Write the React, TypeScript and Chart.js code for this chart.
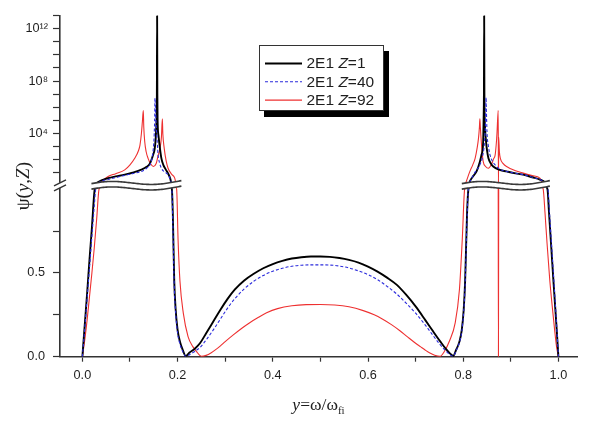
import { useEffect, useRef } from 'react';
import { Chart, registerables } from 'chart.js';

Chart.register(...registerables);

// ψ(y, Z) for the 2E1 two-photon spectrum; pairs of [y = ω/ω_fi, ψ]
const PSI_Z1: [number, number][] = [
  [0, 0], [0.005, 0.19], [0.01, 0.38], [0.015, 0.58], [0.02, 0.77], [0.026, 1.0],
  [0.03, 1.6], [0.04, 2.6], [0.054, 3.9], [0.07, 5.2], [0.089, 7.1], [0.105, 10],
  [0.124, 17], [0.135, 28], [0.142, 52], [0.148, 200], [0.152, 700], [0.154, 4000],
  [0.155, 2e4], [0.156, 2.5e5], [0.1565, 1e7], [0.157, 1e13], [0.1575, 1e7], [0.158, 1e5],
  [0.16, 6300], [0.163, 700], [0.166, 126], [0.17, 40], [0.175, 18], [0.18, 9],
  [0.185, 3.2], [0.188, 1.0], [0.19, 0.85], [0.193, 0.45], [0.196, 0.28], [0.2, 0.16],
  [0.205, 0.09], [0.211, 0.04], [0.217, 0.004], [0.225, 0.025], [0.235, 0.045], [0.247, 0.08],
  [0.26, 0.14], [0.275, 0.21], [0.29, 0.28], [0.305, 0.345], [0.32, 0.4], [0.34, 0.455],
  [0.36, 0.495], [0.38, 0.528], [0.4, 0.553], [0.42, 0.572], [0.44, 0.586], [0.46, 0.594],
  [0.48, 0.598], [0.5, 0.598], [0.52, 0.596], [0.54, 0.589], [0.56, 0.578], [0.58, 0.562],
  [0.6, 0.538], [0.62, 0.508], [0.64, 0.472], [0.66, 0.43], [0.68, 0.37], [0.7, 0.3],
  [0.72, 0.22], [0.737, 0.15], [0.752, 0.09], [0.764, 0.045], [0.772, 0.02], [0.779, 0.004],
  [0.785, 0.04], [0.792, 0.09], [0.797, 0.16], [0.801, 0.28], [0.804, 0.45], [0.808, 0.85],
  [0.811, 1.0], [0.814, 2.2], [0.82, 5], [0.828, 12.6], [0.835, 70], [0.838, 200],
  [0.841, 700], [0.842, 3000], [0.843, 2.5e5], [0.8435, 1e7], [0.844, 1e13], [0.8445, 1e7],
  [0.845, 2e5], [0.846, 2e4], [0.848, 2300], [0.85, 500], [0.853, 126], [0.858, 50],
  [0.863, 30], [0.875, 17], [0.891, 12.6], [0.91, 9], [0.926, 7.1], [0.945, 4.5],
  [0.961, 3.0], [0.972, 1.8], [0.977, 1.0], [0.98, 0.87], [0.985, 0.65], [0.99, 0.43],
  [0.995, 0.22], [1.0, 0],
];

const PSI_Z40: [number, number][] = [
  [0, 0], [0.005, 0.17], [0.01, 0.35], [0.015, 0.53], [0.02, 0.72], [0.025, 0.9],
  [0.028, 1.0], [0.032, 1.5], [0.04, 2.3], [0.054, 3.0], [0.07, 4.3], [0.089, 6.3],
  [0.105, 8.5], [0.124, 12.6], [0.135, 22], [0.142, 40], [0.146, 120], [0.149, 700],
  [0.151, 1e4], [0.152, 2.5e5], [0.1525, 5e6], [0.1535, 1e6], [0.155, 4e4], [0.156, 1.2e4],
  [0.159, 250], [0.162, 60], [0.166, 22], [0.172, 12], [0.18, 7], [0.186, 2.2],
  [0.188, 1.0], [0.19, 0.8], [0.193, 0.42], [0.196, 0.26], [0.2, 0.14], [0.205, 0.075],
  [0.211, 0.03], [0.217, 0.003], [0.225, 0.012], [0.235, 0.03], [0.247, 0.055], [0.26, 0.1],
  [0.275, 0.16], [0.29, 0.225], [0.305, 0.29], [0.32, 0.345], [0.34, 0.405], [0.36, 0.45],
  [0.38, 0.485], [0.4, 0.51], [0.42, 0.528], [0.44, 0.54], [0.46, 0.546], [0.48, 0.548],
  [0.5, 0.548], [0.52, 0.547], [0.54, 0.541], [0.56, 0.53], [0.58, 0.512], [0.6, 0.49],
  [0.62, 0.46], [0.64, 0.42], [0.66, 0.375], [0.68, 0.32], [0.7, 0.26], [0.72, 0.19],
  [0.737, 0.125], [0.752, 0.07], [0.764, 0.033], [0.772, 0.013], [0.779, 0.003], [0.785, 0.035],
  [0.792, 0.085], [0.797, 0.15], [0.801, 0.27], [0.804, 0.43], [0.808, 0.82], [0.811, 1.0],
  [0.815, 2.5], [0.818, 4], [0.826, 12.6], [0.835, 40], [0.841, 200], [0.845, 3000],
  [0.847, 1e5], [0.848, 5.6e6], [0.8485, 1e6], [0.85, 1.2e4], [0.853, 1000], [0.856, 250],
  [0.861, 80], [0.867, 40], [0.875, 20], [0.891, 12.6], [0.91, 9], [0.926, 7.1],
  [0.945, 4.5], [0.961, 3.0], [0.972, 1.8], [0.978, 1.0], [0.981, 0.87], [0.986, 0.65],
  [0.991, 0.43], [0.996, 0.2], [1.0, 0],
];

const PSI_Z92: [number, number][] = [
  [0, 0], [0.005, 0.1], [0.01, 0.22], [0.015, 0.36], [0.02, 0.5], [0.025, 0.65],
  [0.03, 0.82], [0.035, 1.0], [0.04, 2.0], [0.054, 5.2], [0.07, 8.5], [0.089, 16.6],
  [0.1, 40], [0.11, 126], [0.118, 500], [0.121, 1300], [0.124, 1e4], [0.126, 7.4e4],
  [0.128, 5.6e5], [0.129, 3e4], [0.131, 2300], [0.134, 400], [0.138, 126], [0.143, 50],
  [0.149, 30], [0.155, 50], [0.159, 200], [0.163, 700], [0.166, 5000], [0.168, 1.3e5],
  [0.169, 1e4], [0.172, 700], [0.176, 80], [0.18, 22], [0.187, 8], [0.194, 3.9],
  [0.198, 1.0], [0.201, 0.7], [0.205, 0.45], [0.212, 0.26], [0.222, 0.12], [0.232, 0.06],
  [0.24, 0.03], [0.25, 0.002], [0.26, 0.008], [0.27, 0.022], [0.28, 0.042], [0.29, 0.065],
  [0.3, 0.09], [0.317, 0.13], [0.335, 0.17], [0.35, 0.2], [0.37, 0.235], [0.387, 0.262],
  [0.41, 0.287], [0.44, 0.304], [0.47, 0.311], [0.5, 0.312], [0.53, 0.309], [0.56, 0.298],
  [0.59, 0.275], [0.613, 0.25], [0.63, 0.225], [0.65, 0.19], [0.667, 0.155], [0.683, 0.118],
  [0.7, 0.08], [0.71, 0.06], [0.72, 0.04], [0.73, 0.022], [0.74, 0.009], [0.751, 0.002],
  [0.76, 0.03], [0.772, 0.1], [0.783, 0.2], [0.792, 0.4], [0.798, 0.7], [0.803, 1.0],
  [0.807, 2.5], [0.814, 12.6], [0.82, 40], [0.825, 126], [0.829, 700], [0.832, 4000],
  [0.834, 3e4], [0.835, 1.3e5], [0.836, 3e4], [0.839, 700], [0.842, 70], [0.847, 30],
  [0.853, 22], [0.86, 50], [0.864, 120], [0.867, 220], [0.87, 3000], [0.871, 1.2e4],
  [0.8735, 5.6e5], [0.874, 0], [0.8745, 5000], [0.876, 400], [0.878, 126], [0.884, 50],
  [0.891, 30], [0.91, 14], [0.926, 9.3], [0.945, 6], [0.961, 3.9], [0.964, 2.5],
  [0.968, 1.0], [0.972, 0.85], [0.976, 0.68], [0.982, 0.45], [0.987, 0.3], [0.992, 0.16],
  [0.996, 0.06], [1.0, 0],
];

const SERIES_Z = ['1', '40', '92'];

const X_TICKS = [0, 0.1, 0.2, 0.3, 0.4, 0.5, 0.6, 0.7, 0.8, 0.9, 1.0];
const X_TICK_LABELS = ['0.0', '', '0.2', '', '0.4', '', '0.6', '', '0.8', '', '1.0'];
const Y_LOW_TICKS = [0, 0.25, 0.5, 0.75];
const Y_LOW_TICK_LABELS = ['0.0', '', '0.5', ''];
const Y_HIGH_TICKS = [1e1, 1e2, 1e3, 1e4, 1e5, 1e6, 1e7, 1e8, 1e9, 1e10, 1e11, 1e12, 1e13];
const Y_HIGH_TICK_LABELS = ['', '', '', '10⁴', '', '', '', '10⁸', '', '', '', '10¹²', ''];

// linear part of the broken axis: 0 .. LOW_MAX, log part: 1 .. 1e13
const LOW_MAX = 1.02;
const HIGH_MIN = 1;
const HIGH_MAX = 1e13;
const BREAK_VALUE = 1;

// x ranges covered by the wavy break bands
const BAND_RANGES: [number, number][] = [[0.019, 0.208], [0.797, 0.982]];

const STYLES = [
  { color: '#000000', width: 1.9, dash: [] as number[] },
  { color: '#2b2bdc', width: 1.1, dash: [3, 2] },
  { color: '#ee3030', width: 1.1, dash: [] as number[] },
];

const SANS = '"Liberation Sans", Arial, sans-serif';
const SERIF = '"Liberation Serif", "Times New Roman", serif';
const AXIS_COLOR = '#333333';
const TEXT_COLOR = '#1e1e1e';

function lowerPart(pairs: [number, number][]) {
  return pairs.map(([x, v], i) => {
    if (v <= BREAK_VALUE) return { x, y: v };
    const prev = pairs[i - 1];
    const next = pairs[i + 1];
    const near = (prev && prev[1] <= BREAK_VALUE) || (next && next[1] <= BREAK_VALUE);
    return { x, y: near ? LOW_MAX : null };
  });
}

function upperPart(pairs: [number, number][]) {
  return pairs.map(([x, v], i) => {
    if (v >= BREAK_VALUE) return { x, y: v };
    const prev = pairs[i - 1];
    const next = pairs[i + 1];
    const near = (prev && prev[1] >= BREAK_VALUE) || (next && next[1] >= BREAK_VALUE);
    return { x, y: near ? HIGH_MIN : null };
  });
}

type Piece = { t: string; font: string; dy?: number };

function drawPieces(ctx: CanvasRenderingContext2D, pieces: Piece[], cx: number, cy: number) {
  let total = 0;
  for (const p of pieces) {
    ctx.font = p.font;
    total += ctx.measureText(p.t).width;
  }
  let x = cx - total / 2;
  for (const p of pieces) {
    ctx.font = p.font;
    ctx.fillText(p.t, x, cy + (p.dy || 0));
    x += ctx.measureText(p.t).width;
  }
}

const decorations = {
  id: 'decorations',
  afterDatasetsDraw(chart: any) {
    const ctx: CanvasRenderingContext2D = chart.ctx;
    const xs = chart.scales.x;
    const yc = chart.scales.yHigh.bottom - 1.5;
    for (const [a, b] of BAND_RANGES) {
      const x0 = xs.getPixelForValue(a);
      const x1 = xs.getPixelForValue(b);
      const n = 60;
      const top: [number, number][] = [];
      for (let i = 0; i <= n; i++) {
        const t = i / n;
        const y = yc + 1.5 * (1 - 2 * t) - 2.2 * Math.sin(2 * Math.PI * (t + 0.05)) - 1.5;
        top.push([x0 + (x1 - x0) * t, y]);
      }
      const gap = 5.5;
      ctx.save();
      ctx.beginPath();
      top.forEach(([x, y], i) => (i ? ctx.lineTo(x, y) : ctx.moveTo(x, y)));
      for (let i = top.length - 1; i >= 0; i--) ctx.lineTo(top[i][0], top[i][1] + gap);
      ctx.closePath();
      ctx.fillStyle = '#ffffff';
      ctx.fill();
      ctx.strokeStyle = '#3a3a3a';
      ctx.lineWidth = 1.6;
      for (const off of [0, gap]) {
        ctx.beginPath();
        top.forEach(([x, y], i) => (i ? ctx.lineTo(x, y + off) : ctx.moveTo(x, y + off)));
        ctx.stroke();
      }
      ctx.restore();
    }
  },
  afterDraw(chart: any) {
    const ctx: CanvasRenderingContext2D = chart.ctx;
    const area = chart.chartArea;
    const yb = chart.scales.yHigh.bottom;
    const ax = area.left;

    // axis break mark
    ctx.save();
    ctx.fillStyle = '#ffffff';
    ctx.fillRect(ax - 3, yb - 3, 6, 5);
    ctx.strokeStyle = AXIS_COLOR;
    ctx.lineWidth = 1.4;
    for (const dy of [-3, 2]) {
      ctx.beginPath();
      ctx.moveTo(ax - 6, yb + dy + 3);
      ctx.lineTo(ax + 6, yb + dy - 3);
      ctx.stroke();
    }
    ctx.restore();

    // legend with drop shadow
    const bx = 259, by = 45, bw = 125, bh = 66;
    ctx.save();
    ctx.fillStyle = '#000000';
    ctx.fillRect(bx + 5, by + 6, bw, bh);
    ctx.fillStyle = '#ffffff';
    ctx.fillRect(bx, by, bw, bh);
    ctx.strokeStyle = '#333333';
    ctx.lineWidth = 1;
    ctx.strokeRect(bx + 0.5, by + 0.5, bw - 1, bh - 1);
    SERIES_Z.forEach((z, i) => {
      const ly = by + 18.5 + i * 18.3;
      const st = STYLES[i];
      ctx.beginPath();
      ctx.setLineDash(st.dash);
      ctx.strokeStyle = st.color;
      ctx.lineWidth = st.width;
      ctx.moveTo(265, ly);
      ctx.lineTo(302, ly);
      ctx.stroke();
      ctx.setLineDash([]);
      ctx.fillStyle = TEXT_COLOR;
      ctx.textBaseline = 'middle';
      ctx.textAlign = 'left';
      let x = 306.5;
      const pieces: Piece[] = [
        { t: '2E1 ', font: `15.5px ${SANS}` },
        { t: 'Z', font: `italic 15.5px ${SANS}` },
        { t: `=${z}`, font: `15.5px ${SANS}` },
      ];
      for (const p of pieces) {
        ctx.font = p.font;
        ctx.fillText(p.t, x, ly + 0.5);
        x += ctx.measureText(p.t).width;
      }
    });
    ctx.restore();

    // axis titles
    ctx.save();
    ctx.fillStyle = TEXT_COLOR;
    ctx.textAlign = 'left';
    ctx.textBaseline = 'alphabetic';
    drawPieces(ctx, [
      { t: 'y', font: `italic 17.5px ${SERIF}` },
      { t: '=ω/ω', font: `17.5px ${SERIF}` },
      { t: 'fi', font: `11px ${SERIF}`, dy: 4 },
    ], (area.left + area.right) / 2, 410);
    ctx.translate(29, (area.top + area.bottom) / 2);
    ctx.rotate(-Math.PI / 2);
    drawPieces(ctx, [
      { t: 'ψ(', font: `19px ${SERIF}` },
      { t: 'y', font: `italic 19px ${SERIF}` },
      { t: ',', font: `19px ${SERIF}` },
      { t: 'Z', font: `italic 19px ${SERIF}` },
      { t: ')', font: `19px ${SERIF}` },
    ], 0, 0);
    ctx.restore();
  },
};

const tickFont = { family: SANS, size: 12.7 };

export default function App() {
  const ref = useRef<HTMLCanvasElement>(null);

  useEffect(() => {
    document.body.style.margin = '0';
    const canvas = ref.current;
    if (!canvas) return;
    const sources = [PSI_Z1, PSI_Z40, PSI_Z92];
    // blue on top, then black, red underneath
    const drawOrder = [1, 0, 2];
    const datasets: any[] = [];
    for (const k of drawOrder) {
      const st = STYLES[k];
      const common = {
        borderColor: st.color,
        borderWidth: st.width,
        borderDash: st.dash,
        pointRadius: 0,
        fill: false,
        cubicInterpolationMode: 'monotone',
        label: `2E1 Z=${SERIES_Z[k]}`,
      };
      datasets.push({ ...common, data: lowerPart(sources[k]), yAxisID: 'yLow' });
      datasets.push({ ...common, data: upperPart(sources[k]), yAxisID: 'yHigh' });
    }

    const grid = { drawOnChartArea: false, color: AXIS_COLOR, tickWidth: 1.2 };
    const border = { color: AXIS_COLOR, width: 1.6 };

    const chart = new Chart(canvas, {
      type: 'line',
      data: { datasets },
      options: {
        responsive: false,
        animation: false,
        events: [],
        layout: { padding: { top: 13, right: 12, bottom: 0, left: 0 } },
        plugins: { legend: { display: false }, tooltip: { enabled: false } },
        scales: {
          x: {
            type: 'linear',
            min: -0.047,
            max: 1.039,
            afterBuildTicks: (s: any) => { s.ticks = X_TICKS.map((value) => ({ value })); },
            afterFit: (s: any) => { s.height = 69.3; },
            ticks: {
              autoSkip: false,
              maxRotation: 0,
              padding: 6,
              color: TEXT_COLOR,
              font: tickFont,
              callback: (_v: any, i: number) => X_TICK_LABELS[i],
            },
            grid: { ...grid, tickLength: 5 },
            border,
          },
          yHigh: {
            type: 'logarithmic',
            position: 'left',
            stack: 'psi',
            stackWeight: 171.5,
            weight: 1,
            min: HIGH_MIN,
            max: HIGH_MAX,
            afterBuildTicks: (s: any) => { s.ticks = Y_HIGH_TICKS.map((value) => ({ value })); },
            afterFit: (s: any) => { s.width = 60; },
            ticks: {
              autoSkip: false,
              padding: 5,
              color: TEXT_COLOR,
              font: tickFont,
              callback: (_v: any, i: number) => Y_HIGH_TICK_LABELS[i],
            },
            grid: { ...grid, tickLength: 7 },
            border,
          },
          yLow: {
            type: 'linear',
            position: 'left',
            stack: 'psi',
            stackWeight: 172.2,
            weight: 0,
            min: 0,
            max: LOW_MAX,
            afterBuildTicks: (s: any) => { s.ticks = Y_LOW_TICKS.map((value) => ({ value })); },
            afterFit: (s: any) => { s.width = 60; },
            ticks: {
              autoSkip: false,
              padding: 8,
              color: TEXT_COLOR,
              font: tickFont,
              callback: (_v: any, i: number) => Y_LOW_TICK_LABELS[i],
            },
            grid: { ...grid, tickLength: 7 },
            border,
          },
        },
      } as any,
      plugins: [decorations],
    });
    return () => chart.destroy();
  }, []);

  return <canvas ref={ref} width={589} height={426} style={{ display: 'block' }} />;
}
